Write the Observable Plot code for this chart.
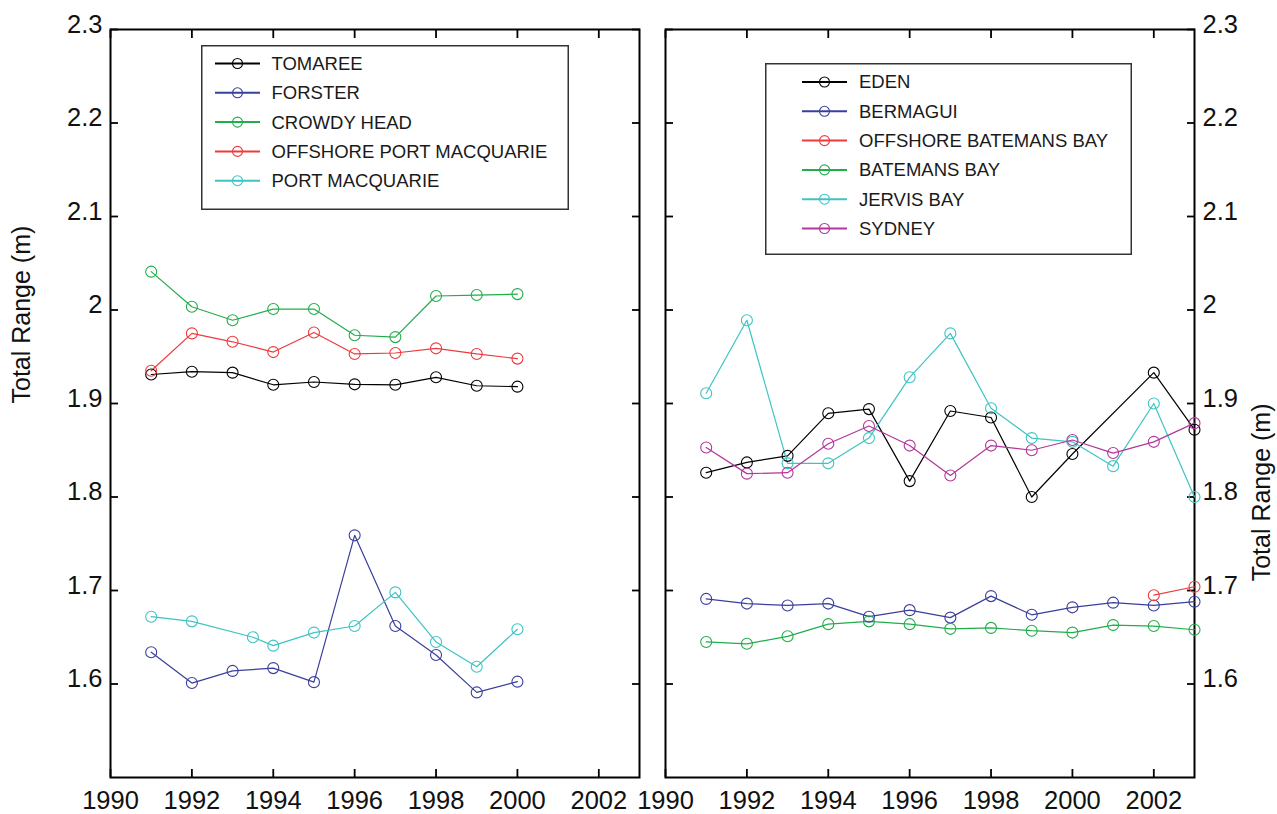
<!DOCTYPE html>
<html><head><meta charset="utf-8">
<script src="https://cdn.jsdelivr.net/npm/d3@7"></script>
<script src="https://cdn.jsdelivr.net/npm/@observablehq/plot@0.6"></script>
<style>
html,body{margin:0;padding:0;background:#fff;}
#wrap{position:relative;width:1277px;height:814px;overflow:hidden;font-family:"Liberation Sans",Arial,sans-serif;}
#wrap > svg, #wrap > .plot{position:absolute;top:0;}
</style></head><body><div id="wrap"></div>
<script>
// ---------- DATA ----------
const leftNames = ["TOMAREE","FORSTER","CROWDY HEAD","OFFSHORE PORT MACQUARIE","PORT MACQUARIE"];
const leftColors = ["#000000","#3a3f9c","#22ad4b","#ee3a3d","#3ec3c3"];
const rightNames = ["EDEN","BERMAGUI","OFFSHORE BATEMANS BAY","BATEMANS BAY","JERVIS BAY","SYDNEY"];
const rightColors = ["#000000","#3a3f9c","#ee3a3d","#22ad4b","#3ec3c3","#b3369b"];

const yearsLeft = [1991,1992,1993,1994,1995,1996,1997,1998,1999,2000];
const tomaree  = [1.931,1.934,1.933,1.920,1.923,1.9205,1.920,1.928,1.919,1.918];
const forster  = [1.634,1.601,1.614,1.617,1.602,1.759,1.662,1.631,1.591,1.6025];
const crowdyHead = [2.041,2.0035,1.989,2.001,2.001,1.973,1.971,2.015,2.016,2.017];
const offshorePortMacquarie = [1.935,1.975,1.966,1.955,1.976,1.953,1.954,1.959,1.953,1.948];
const yearsPortMacquarie = [1991,1992,1993.5,1994,1995,1996,1997,1998,1999,2000];
const portMacquarie = [1.672,1.667,1.650,1.641,1.655,1.662,1.698,1.645,1.6185,1.6585];

const yearsRight = [1991,1992,1993,1994,1995,1996,1997,1998,1999,2000,2001,2002,2003];
const yearsEden = [1991,1992,1993,1994,1995,1996,1997,1998,1999,2000,2002,2003];
const eden = [1.826,1.837,1.844,1.8895,1.894,1.817,1.892,1.885,1.800,1.846,1.933,1.872];
const bermagui = [1.691,1.686,1.684,1.686,1.672,1.679,1.671,1.694,1.674,1.682,1.687,1.684,1.688];
const yearsOffshoreBatemans = [2002,2003];
const offshoreBatemansBay = [1.695,1.704];
const batemansBay = [1.645,1.643,1.651,1.664,1.667,1.664,1.659,1.660,1.657,1.655,1.663,1.662,1.658];
const jervisBay = [1.911,1.989,1.836,1.836,1.863,1.928,1.975,1.895,1.863,1.859,1.833,1.900,1.800];
const sydney = [1.853,1.825,1.826,1.857,1.876,1.855,1.823,1.855,1.850,1.861,1.847,1.859,1.879];

const xTicks = [1990,1992,1994,1996,1998,2000,2002];
const yTicks = [1.6,1.7,1.8,1.9,2,2.1,2.2,2.3];
const yTitle = "Total Range (m)";

// ---------- TABLES ----------
function rowsOf(series, years, values){ return values.map((v,i)=>({series, year: years[i], value: v})); }
const leftRows = [
  ...rowsOf(leftNames[0], yearsLeft, tomaree),
  ...rowsOf(leftNames[1], yearsLeft, forster),
  ...rowsOf(leftNames[2], yearsLeft, crowdyHead),
  ...rowsOf(leftNames[3], yearsLeft, offshorePortMacquarie),
  ...rowsOf(leftNames[4], yearsPortMacquarie, portMacquarie)
];
const rightRows = [
  ...rowsOf(rightNames[0], yearsEden, eden),
  ...rowsOf(rightNames[1], yearsRight, bermagui),
  ...rowsOf(rightNames[2], yearsOffshoreBatemans, offshoreBatemansBay),
  ...rowsOf(rightNames[3], yearsRight, batemansBay),
  ...rowsOf(rightNames[4], yearsRight, jervisBay),
  ...rowsOf(rightNames[5], yearsRight, sydney)
];

const FONT = '"Liberation Sans", Arial, Helvetica, sans-serif';
const empty = () => "";

function panel({rows, names, colors, side, width, marginLeft, marginRight, titleDx}) {
  return Plot.plot({
    width, height: 814,
    marginTop: 29, marginBottom: 37, marginLeft, marginRight,
    x: {domain: [1990, 2003]},
    y: {domain: [1.5, 2.3]},
    color: {domain: names, range: colors},
    style: {fontFamily: FONT, fontSize: "25px", background: "transparent", overflow: "visible", color: "#000"},
    marks: [
      // inward ticks on all four sides
      Plot.axisX(xTicks, {anchor: "bottom", tickSize: -8, tickFormat: empty, label: null, stroke: "#000", strokeWidth: 1.8}),
      Plot.axisX(xTicks, {anchor: "top", tickSize: -8, tickFormat: empty, label: null, stroke: "#000", strokeWidth: 1.8}),
      Plot.axisY(yTicks, {anchor: "left", tickSize: -8, tickFormat: empty, label: null, stroke: "#000", strokeWidth: 1.8}),
      Plot.axisY(yTicks, {anchor: "right", tickSize: -8, tickFormat: empty, label: null, stroke: "#000", strokeWidth: 1.8}),
      // tick labels
      Plot.axisX(xTicks, {anchor: "bottom", tickSize: 0, tickPadding: 13, tickFormat: d3.format("d"), label: null, fontSize: 25.5, fill: "#111"}),
      Plot.axisY(yTicks, {anchor: side, tickSize: 0, tickPadding: 8, dy: -5, tickFormat: d => String(d), label: null, fontSize: 25.5, fill: "#111"}),
      Plot.frame({stroke: "#000", strokeWidth: 2}),
      Plot.line(rows, {x: "year", y: "value", z: "series", stroke: "series", strokeWidth: 1.2}),
      Plot.dot(rows, {x: "year", y: "value", stroke: "series", r: 5.5, strokeWidth: 1.1}),
      Plot.text([yTitle], {frameAnchor: side, rotate: -90, dx: titleDx, text: d => d, fontSize: 25, fill: "#111"})
    ]
  });
}

const wrap = document.getElementById("wrap");
const left = panel({rows: leftRows, names: leftNames, colors: leftColors, side: "left", width: 650, marginLeft: 110, marginRight: 11, titleDx: -89});
left.style.left = "0px";
wrap.appendChild(left);
const right = panel({rows: rightRows, names: rightNames, colors: rightColors, side: "right", width: 647, marginLeft: 35, marginRight: 83, titleDx: 67});
right.style.left = "630px";
wrap.appendChild(right);

// ---------- LEGENDS ----------
function legend({names, colors, x, y, w, h, rowTop, rowStep, lineX0, lineX1, markX, textX}) {
  const svg = d3.select(wrap).append("svg")
    .attr("width", w).attr("height", h)
    .style("left", x + "px").style("top", y + "px").style("position", "absolute");
  svg.append("rect").attr("x", 0.75).attr("y", 0.75).attr("width", w - 1.5).attr("height", h - 1.5)
    .attr("fill", "#fff").attr("stroke", "#333").attr("stroke-width", 1.5);
  names.forEach((n, i) => {
    const cy = rowTop + i * rowStep;
    svg.append("line").attr("x1", lineX0).attr("x2", lineX1).attr("y1", cy).attr("y2", cy)
      .attr("stroke", colors[i]).attr("stroke-width", 2);
    svg.append("circle").attr("cx", markX).attr("cy", cy).attr("r", 5).attr("fill", "none")
      .attr("stroke", colors[i]).attr("stroke-width", 1.1);
    svg.append("text").attr("x", textX).attr("y", cy).attr("dy", "0.35em")
      .attr("font-family", FONT).attr("font-size", 18.5).attr("fill", "#1a1a1a").text(n);
  });
}
legend({names: leftNames, colors: leftColors, x: 201, y: 45, w: 368, h: 165, rowTop: 18.5, rowStep: 29.3, lineX0: 14, lineX1: 59, markX: 36.5, textX: 70.5});
legend({names: rightNames, colors: rightColors, x: 765, y: 63, w: 367, h: 192, rowTop: 19, rowStep: 29.3, lineX0: 37, lineX1: 82, markX: 59.5, textX: 94});
</script></body></html>
